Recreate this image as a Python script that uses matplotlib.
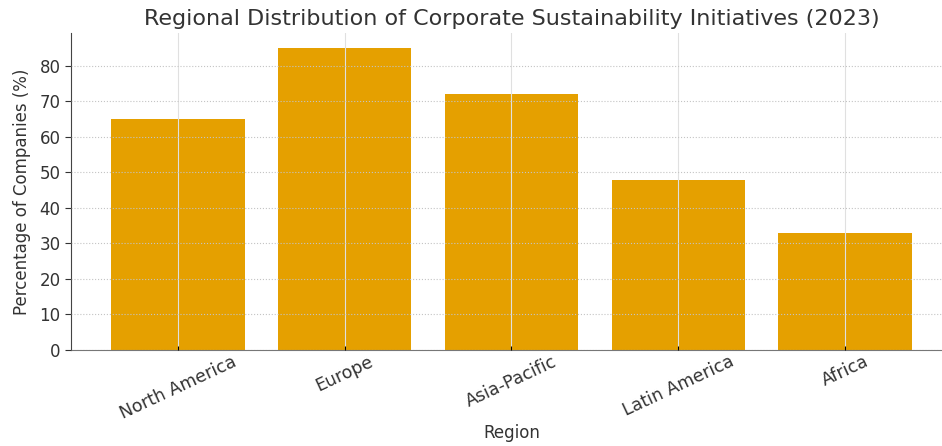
import matplotlib
matplotlib.use("Agg")
import matplotlib.pyplot as plt

regions = ["North America", "Europe", "Asia-Pacific", "Latin America", "Africa"]
percentages = [65, 85, 72, 48, 33]
title = "Regional Distribution of Corporate Sustainability Initiatives (2023)"

fig = plt.figure(figsize=(9.42, 4.46), dpi=100)
ax = fig.add_axes([71/942, (446-350)/446, (952-71)/942, (350-33)/446])

ax.bar(regions, percentages, color="#E5A000", width=0.8, zorder=1)

ax.set_ylim(0, 89.25)
ax.set_yticks(range(0, 90, 10))
ax.yaxis.grid(True, linestyle=":", color="#c4c4c4", linewidth=0.8)
ax.xaxis.grid(True, linestyle="-", color="#e0e0e0", linewidth=0.8)
ax.set_axisbelow(False)

for s in ["top", "right"]:
    ax.spines[s].set_visible(False)
ax.spines["left"].set_color("#444444")
ax.spines["bottom"].set_color("#777777")

ax.tick_params(axis="y", labelsize=12, colors="#333333", length=4)
ax.tick_params(axis="x", direction="in", length=3, labelsize=12.5, labelcolor="#333333", pad=2)
plt.setp(ax.get_xticklabels(), rotation=25, ha="center")

ax.set_xlabel("Region", fontsize=12, color="#333333", labelpad=1)
ax.set_ylabel("Percentage of Companies (%)", fontsize=12, color="#333333", labelpad=6)
ax.set_title(title, fontsize=16, color="#333333", pad=6)

fig.savefig("out.png", dpi=100)
